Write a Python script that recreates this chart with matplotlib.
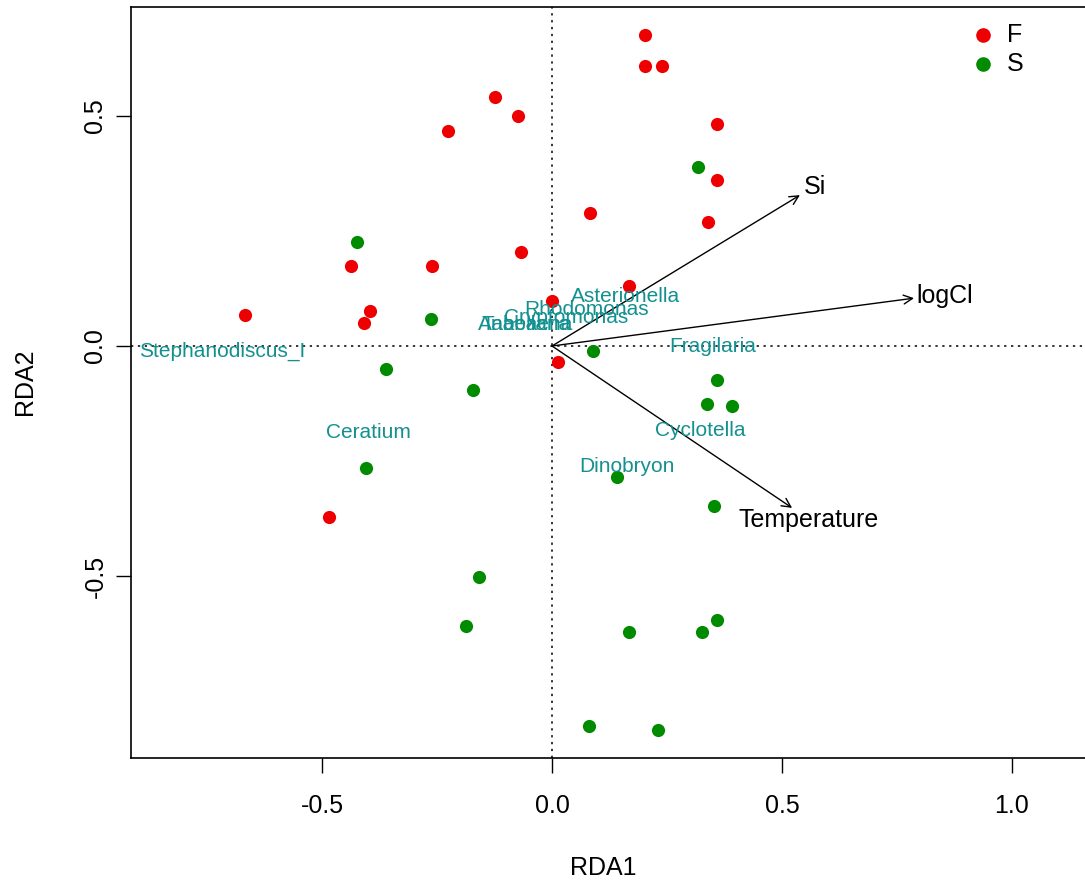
import matplotlib
matplotlib.use("Agg")
import matplotlib.pyplot as plt

plt.rcParams['font.family'] = ['Liberation Sans', 'DejaVu Sans']

# site scores, group F (red)
f_x = [0.202, 0.202, 0.239, -0.124, -0.074, -0.226, 0.359, 0.359, 0.339, 0.083,
       -0.067, -0.261, -0.437, 0.167, 0.0, -0.396, -0.409, -0.667, 0.013, -0.485]
f_y = [0.676, 0.609, 0.609, 0.541, 0.500, 0.467, 0.483, 0.361, 0.270, 0.289,
       0.204, 0.174, 0.174, 0.130, 0.098, 0.076, 0.050, 0.067, -0.035, -0.372]

# site scores, group S (green)
s_x = [0.317, -0.424, -0.263, 0.089, -0.361, -0.172, 0.359, 0.337, 0.391, -0.404,
       0.141, 0.352, -0.159, -0.187, 0.167, 0.326, 0.359, 0.080, 0.230]
s_y = [0.389, 0.226, 0.059, -0.011, -0.050, -0.096, -0.074, -0.126, -0.130, -0.265,
       -0.285, -0.348, -0.502, -0.609, -0.622, -0.622, -0.596, -0.826, -0.835]

# environmental vectors
env_names = ["Si", "logCl", "Temperature"]
env_x = [0.539, 0.787, 0.522]
env_y = [0.328, 0.104, -0.352]
env_lab_x = [0.572, 0.854, 0.558]
env_lab_y = [0.346, 0.109, -0.378]

# species scores
sp_names = ["Asterionella", "Rhodomonas", "Cryptomonas", "Anabaena", "Tabellaria",
            "Fragilaria", "Cyclotella", "Dinobryon", "Ceratium", "Stephanodiscus_I"]
sp_x = [0.159, 0.076, 0.030, -0.057, -0.056, 0.350, 0.322, 0.163, -0.400, -0.717]
sp_y = [0.107, 0.080, 0.061, 0.046, 0.047, 0.000, -0.183, -0.261, -0.189, -0.011]

W, H = 1085, 883
fig = plt.figure(figsize=(W / 100, H / 100), dpi=100)
left, right, top, bottom = 131, 1095, 7, 758
ax = fig.add_axes([left / W, (H - bottom) / H, (right - left) / W, (bottom - top) / H])

ax.set_xlim((left - 552) / 460, (right - 552) / 460)
ax.set_ylim((346 - bottom) / 460, (346 - top) / 460)

ax.axhline(0, color="black", ls=(0, (1.5, 3)), lw=1.1)
ax.axvline(0, color="black", ls=(0, (1.5, 3)), lw=1.1)

ax.scatter(f_x, f_y, s=90, color="#EE0000", zorder=3, linewidths=0)
ax.scatter(s_x, s_y, s=90, color="#008B00", zorder=3, linewidths=0)

for n, x, y in zip(sp_names, sp_x, sp_y):
    ax.text(x, y, n, color="#139090", fontsize=15, ha="center", va="center", zorder=4)

for n, x, y, lx, ly in zip(env_names, env_x, env_y, env_lab_x, env_lab_y):
    ax.annotate("", xy=(x, y), xytext=(0, 0),
                arrowprops=dict(arrowstyle="->", color="black", lw=1,
                                mutation_scale=16, shrinkA=0, shrinkB=0))
    ax.text(lx, ly, n, fontsize=18, ha="center", va="center", color="black")

ax.set_xticks([-0.5, 0.0, 0.5, 1.0])
ax.set_xticklabels(["-0.5", "0.0", "0.5", "1.0"])
ax.set_yticks([-0.5, 0.0, 0.5])
ax.set_yticklabels(["-0.5", "0.0", "0.5"], rotation=90, va="center")
ax.tick_params(axis="both", length=11, width=1, labelsize=18)
ax.tick_params(axis="x", pad=15)
ax.tick_params(axis="y", pad=6)
for sp in ax.spines.values():
    sp.set_linewidth(1.2)

fig.text(603 / W, 1 - 868 / H, "RDA1", fontsize=18, ha="center", va="center")
fig.text(25 / W, 1 - 382 / H, "RDA2", fontsize=18, ha="center", va="center", rotation=90)

# legend
leg_px = 983
for lab, col, py in [("F", "#EE0000", 35), ("S", "#008B00", 64)]:
    fig.lines.append(plt.Line2D([leg_px / W], [1 - py / H], marker="o", markersize=9.5,
                                color=col, transform=fig.transFigure, ls="none"))
    fig.text(1007 / W, 1 - py / H, lab, fontsize=18, ha="left", va="center")

fig.savefig("out.png", dpi=100)
